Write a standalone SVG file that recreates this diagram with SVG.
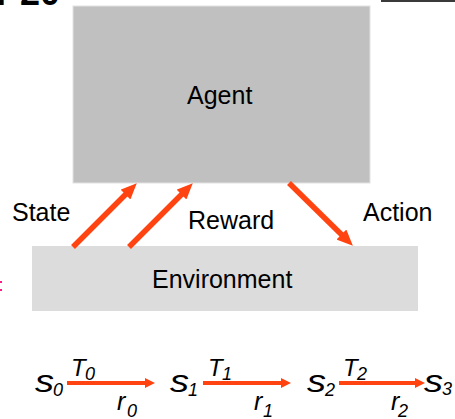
<svg xmlns="http://www.w3.org/2000/svg" width="455" height="419" viewBox="0 0 455 419">
  <style>
    .lbl { font-family: "Liberation Sans", Arial, sans-serif; font-size: 25px; fill: #000; }
    .it { font-family: "Liberation Sans", Arial, sans-serif; font-style: italic; fill: #000; }
    .big { font-size: 31px; }
    .sub { font-size: 18px; }
    .tt { font-size: 24px; }
    .tsub { font-size: 18px; }
    .rr { font-size: 25px; }
    .flow { stroke: #ff4411; stroke-width: 5.5; fill: none; }
    .step { stroke: #ff4411; stroke-width: 4; fill: none; }
  </style>
  <defs>
    <marker id="headBig" markerUnits="userSpaceOnUse" markerWidth="16" markerHeight="14" refX="5" refY="7" orient="auto">
      <path d="M0,0 L16,7 L0,14 z" fill="#ff4411"/>
    </marker>
    <marker id="headSmall" markerUnits="userSpaceOnUse" markerWidth="10" markerHeight="10" refX="3" refY="5" orient="auto">
      <path d="M0,0 L10,5 L0,10 z" fill="#ff4411"/>
    </marker>
  </defs>

  <rect width="455" height="419" fill="#ffffff"/>

  <!-- slide fragments along the edges -->
  <text x="-4" y="5" font-family="Liberation Sans, Arial, sans-serif" font-weight="bold" font-size="36" fill="#000">P20</text>
  <rect x="381" y="0" width="74" height="2" fill="#3a3a3a"/>
  <rect x="0" y="281" width="2" height="2" fill="#ff1a8c"/>
  <rect x="0" y="289" width="2" height="2" fill="#ff1a8c"/>

  <g id="agent">
    <rect x="73" y="6" width="297" height="177" fill="#c0c0c0" stroke="#e2e2e2" stroke-width="1"/>
    <text class="lbl" x="187" y="104">Agent</text>
  </g>

  <g id="environment">
    <rect x="32" y="246" width="386" height="65" fill="#dcdcdc"/>
    <text class="lbl" x="152" y="288">Environment</text>
  </g>

  <g id="connectors">
    <line class="flow" x1="73" y1="247" x2="129" y2="191" marker-end="url(#headBig)"/>
    <line class="flow" x1="129" y1="247" x2="185" y2="191" marker-end="url(#headBig)"/>
    <line class="flow" x1="289" y1="183" x2="345" y2="238" marker-end="url(#headBig)"/>
    <line class="step" x1="67" y1="383" x2="148" y2="383" marker-end="url(#headSmall)"/>
    <line class="step" x1="203" y1="383" x2="284" y2="383" marker-end="url(#headSmall)"/>
    <line class="step" x1="339" y1="383" x2="418" y2="383" marker-end="url(#headSmall)"/>
  </g>

  <g id="labels">
    <text class="lbl" x="12" y="221">State</text>
    <text class="lbl" x="188" y="229">Reward</text>
    <text class="lbl" x="363" y="221">Action</text>
  </g>

  <g id="s0">
    <text class="it big" x="35" y="392" textLength="19" lengthAdjust="spacingAndGlyphs">s</text>
    <text class="it sub" x="53" y="396">0</text>
  </g>
  <g id="s1">
    <text class="it big" x="170" y="392" textLength="19" lengthAdjust="spacingAndGlyphs">s</text>
    <text class="it sub" x="188" y="396">1</text>
  </g>
  <g id="s2">
    <text class="it big" x="307" y="392" textLength="19" lengthAdjust="spacingAndGlyphs">s</text>
    <text class="it sub" x="325" y="396">2</text>
  </g>
  <g id="s3">
    <text class="it big" x="424" y="392" textLength="19" lengthAdjust="spacingAndGlyphs">s</text>
    <text class="it sub" x="442" y="395">3</text>
  </g>

  <g id="transitions">
    <text class="it tt" x="71" y="376">T</text>
    <text class="it tsub" x="85" y="380">0</text>
    <text class="it tt" x="208" y="376">T</text>
    <text class="it tsub" x="222" y="380">1</text>
    <text class="it tt" x="343" y="376">T</text>
    <text class="it tsub" x="357" y="380">2</text>
  </g>

  <g id="rewards">
    <text class="it rr" x="117" y="410">r</text>
    <text class="it sub" x="127" y="417">0</text>
    <text class="it rr" x="254" y="410">r</text>
    <text class="it sub" x="263" y="417">1</text>
    <text class="it rr" x="391" y="410">r</text>
    <text class="it sub" x="398" y="417">2</text>
  </g>
</svg>
